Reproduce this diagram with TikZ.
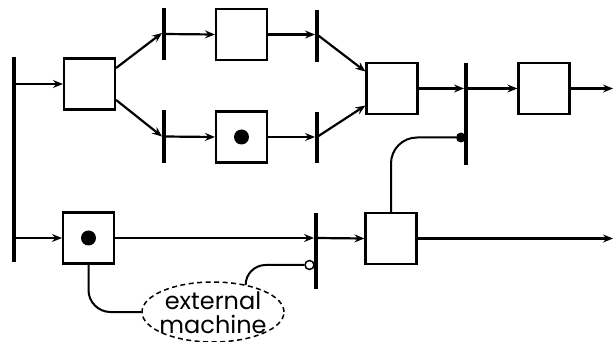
\documentclass[tikz,border=0pt]{standalone}
\usepackage{fontspec}
\setmainfont{Poppins}
\usetikzlibrary{arrows.meta,calc,shapes.geometric}
\begin{document}
\begin{tikzpicture}[x=1pt,y=-1pt,
  box/.style={draw,line width=2.2pt,minimum size=51pt,inner sep=0pt,fill=white},
  bar/.style={fill=black,minimum width=3.6pt,inner sep=0pt,draw=none},
  arr/.style={line width=2.2pt,-{Stealth[length=10pt,width=8pt,inset=3.5pt]}},
  ln/.style={line width=2pt},
  tok/.style={circle,fill=black,minimum size=15pt,inner sep=0pt}]
\useasboundingbox (0,0) rectangle (614,342);
% bars
\node[bar,minimum height=205pt] (b1) at (14,159.5) {};
\node[bar,minimum height=52pt] (b2) at (164,34) {};
\node[bar,minimum height=53pt] (b3) at (164,136.5) {};
\node[bar,minimum height=52pt] (b4) at (317,36) {};
\node[bar,minimum height=51pt] (b5) at (317,137.5) {};
\node[bar,minimum height=102pt] (b6) at (466,114) {};
\node[bar,minimum height=76pt] (b7) at (316,251) {};
% boxes
\node[box] (box1) at (89.5,84) {};
\node[box] (box2) at (241.5,34.5) {};
\node[box] (box3) at (241.5,137) {};
\node[tok] (t3) at (box3.center) {};
\node[box] (box4) at (392,88.5) {};
\node[box] (box5) at (544,88.5) {};
\node[box] (box7) at (88.5,238) {};
\node[tok] (t7) at (box7.center) {};
\node[box] (box6) at (391,238.5) {};
\node[ellipse,draw,dash pattern=on 5pt off 3.5pt,line width=1.5pt,minimum width=142pt,minimum height=60pt,inner sep=0pt] (em) at (213,312) {};
\node[align=center,inner sep=0pt,font=\fontsize{24}{24}\selectfont] (emt) at ($(em.center)+(0,1)$) {external\\machine};
\coordinate (o1) at (613,88.5);
\coordinate (o2) at (613,238.5);
\node[circle,fill=black,minimum size=10pt,inner sep=0pt] (d1) at (461,137.5) {};
\node[circle,draw,fill=white,line width=1.5pt,minimum size=9pt,inner sep=0pt] (c1) at (309.5,265) {};
% arrows
\draw[arr] (box1.west -| b1) -- (box1.west);
\draw[arr] ($(box1.east)+(0,-16)$) -- ($(b2.west)+(0,-1)$);
\draw[arr] ($(box1.east)+(0,16)$) -- (b3.west);
\draw[arr] (b2.center) -- (box2.west);
\draw[arr] (b3.center) -- (box3.west);
\draw[arr] (box2.east) -- (box2.east -| b4.west);
\draw[arr] (box3.east) -- (box3.east -| b5.west);
\draw[arr] (box2.east -| b4) -- ($(box4.west)+(0,-17)$);
\draw[arr] (box3.east -| b5) -- ($(box4.west)+(0,17)$);
\draw[arr] (box4.east) -- (box4.east -| b6.west);
\draw[arr] (box4.east -| b6) -- (box5.west);
\draw[arr] (box5.east) -- (o1);
\draw[arr] (box7.west -| b1) -- (box7.west);
\draw[arr] (box7.east) -- (box7.east -| b7.west);
\draw[arr] (box7.east -| b7) -- (box6.west);
\draw[arr] (box6.east) -- (o2);
% control lines
\draw[ln,rounded corners=26pt] (box6.north) |- (d1.west);
\draw[ln,rounded corners=20pt] (c1.west) -| (em.40);
\draw[ln,rounded corners=22pt] (box7.south) |- (em.west);
\end{tikzpicture}
\end{document}
